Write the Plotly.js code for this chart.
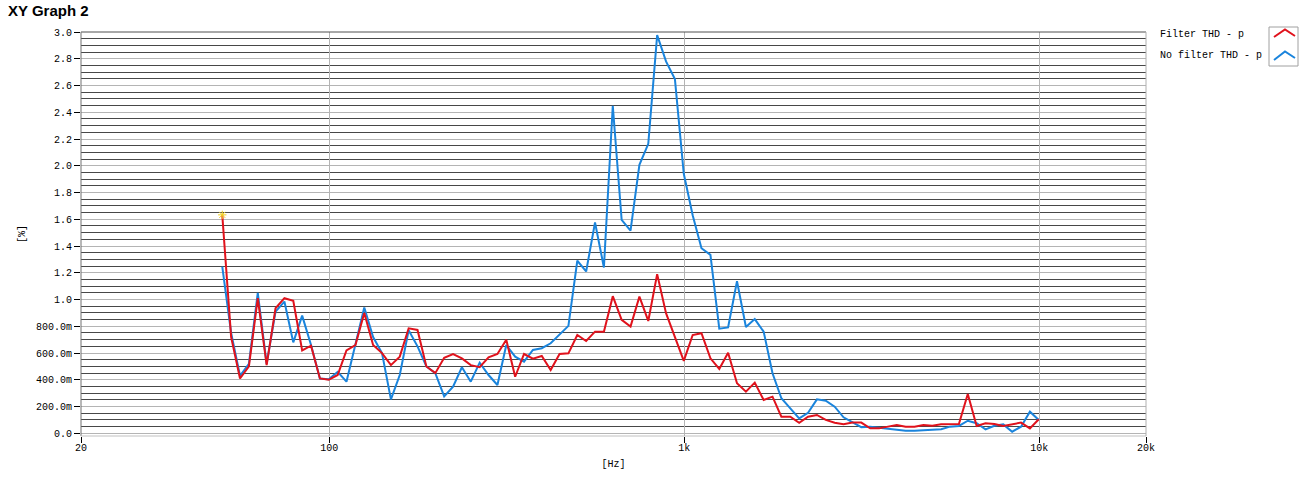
<!DOCTYPE html>
<html>
<head>
<meta charset="utf-8">
<script src="https://cdn.plot.ly/plotly-3.0.1.min.js"></script>
<style>html,body{margin:0;padding:0;background:#fff;}#chart{width:1312px;height:490px;}</style>
</head>
<body>
<div id="chart"></div>
<script>
// Frequencies (Hz)
const freqHz = [
  50.0, 52.96, 56.10, 59.43, 62.95, 66.68, 70.63, 74.82, 79.25, 83.95,
  88.92, 94.19, 99.77, 105.7, 111.9, 118.6, 125.6, 133.0, 140.9, 149.3,
  158.1, 167.5, 177.4, 187.9, 199.1, 210.9, 223.4, 236.6, 250.6, 265.5,
  281.2, 297.9, 315.5, 334.2, 354.0, 375.0, 397.2, 420.8, 445.7, 472.1,
  500.1, 529.6, 561.0, 594.3, 629.5, 666.8, 706.3, 748.2, 792.5, 839.5,
  889.2, 941.9, 997.7, 1057, 1119, 1186, 1256, 1330, 1409, 1493,
  1581, 1675, 1774, 1879, 1991, 2109, 2234, 2366, 2506, 2655,
  2812, 2979, 3155, 3342, 3540, 3750, 3972, 4208, 4457, 4721,
  5000, 5296, 5610, 5943, 6295, 6668, 7063, 7482, 7925, 8395,
  8892, 9419, 9977
];
// Filter THD - p  (%)
const filterTHD = [
  1.633, 0.72, 0.41, 0.50, 1.01, 0.51, 0.935, 1.01, 0.99, 0.62,
  0.655, 0.41, 0.40, 0.436, 0.62, 0.66, 0.90, 0.66, 0.60, 0.51,
  0.573, 0.785, 0.773, 0.50, 0.45, 0.565, 0.593, 0.56, 0.51, 0.494,
  0.568, 0.593, 0.70, 0.423, 0.593, 0.558, 0.578, 0.473, 0.593, 0.598,
  0.735, 0.69, 0.76, 0.76, 1.025, 0.848, 0.798, 1.022, 0.84, 1.19,
  0.898, 0.723, 0.542, 0.735, 0.748, 0.561, 0.481, 0.603, 0.374, 0.311,
  0.379, 0.249, 0.274, 0.124, 0.124, 0.079, 0.124, 0.137, 0.10, 0.079,
  0.068, 0.08, 0.08, 0.037, 0.037, 0.05, 0.062, 0.05, 0.05, 0.062,
  0.057, 0.067, 0.067, 0.07, 0.294, 0.055, 0.075, 0.07, 0.055, 0.067,
  0.08, 0.037, 0.105
];
// No filter THD - p  (%)
const noFilterTHD = [
  1.246, 0.75, 0.43, 0.52, 1.05, 0.52, 0.91, 0.985, 0.68, 0.88,
  0.66, 0.41, 0.405, 0.46, 0.386, 0.66, 0.94, 0.72, 0.60, 0.254,
  0.436, 0.77, 0.65, 0.50, 0.45, 0.276, 0.349, 0.494, 0.386, 0.528,
  0.436, 0.361, 0.66, 0.573, 0.536, 0.623, 0.636, 0.673, 0.735, 0.803,
  1.29, 1.21, 1.576, 1.24, 2.449, 1.596, 1.516, 2.007, 2.164, 2.977,
  2.78, 2.648, 1.94, 1.63, 1.384, 1.334, 0.782, 0.792, 1.137, 0.795,
  0.854, 0.76, 0.449, 0.262, 0.187, 0.112, 0.154, 0.254, 0.244, 0.199,
  0.12, 0.08, 0.046, 0.05, 0.042, 0.037, 0.03, 0.02, 0.02, 0.025,
  0.025, 0.03, 0.05, 0.055, 0.094, 0.075, 0.03, 0.057, 0.067, 0.012,
  0.05, 0.162, 0.10
];
const seriesNames = ['Filter THD - p', 'No filter THD - p'];
const yTickVals = [0, 0.2, 0.4, 0.6, 0.8, 1.0, 1.2, 1.4, 1.6, 1.8, 2.0, 2.2, 2.4, 2.6, 2.8, 3.0];
const yTickText = ['0.0', '200.0m', '400.0m', '600.0m', '800.0m', '1.0', '1.2', '1.4', '1.6', '1.8', '2.0', '2.2', '2.4', '2.6', '2.8', '3.0'];
const xTickVals = [20, 100, 1000, 10000, 20000];
const xTickText = ['20', '100', '1k', '10k', '20k'];

const RED = '#e0121c';
const BLUE = '#1a84dc';
const MONO = 'Liberation Mono, DejaVu Sans Mono, monospace';

// plot area geometry (px)
const W = 1312, H = 490;
const M = {l: 81, r: 166, t: 32, b: 54};
const PW = W - M.l - M.r, PH = H - M.t - M.b;
const px = v => (v - M.l) / PW;        // page x -> paper x
const py = v => (H - M.b - v) / PH;    // page y -> paper y

const traces = [
  {x: freqHz, y: noFilterTHD, name: seriesNames[1], type: 'scatter', mode: 'lines',
   line: {color: BLUE, width: 2}},
  {x: freqHz, y: filterTHD, name: seriesNames[0], type: 'scatter', mode: 'lines',
   line: {color: RED, width: 2}},
  {x: [freqHz[0]], y: [filterTHD[0]], type: 'scatter', mode: 'markers', showlegend: false,
   hoverinfo: 'skip',
   marker: {symbol: 'asterisk-open', size: 7, color: '#f0d020', line: {color: '#f0d020', width: 1}}}
];

const line = (x0, y0, x1, y1, color) => ({type: 'line', xref: 'paper', yref: 'paper',
  x0: px(x0), y0: py(y0), x1: px(x1), y1: py(y1), layer: 'above', line: {color: color, width: 1}});

const shapes = [
  // plot border
  line(M.l, M.t, W - M.r, M.t, '#505050'),
  line(M.l, M.t, M.l, H - M.b, '#707070'),
  line(M.l, H - M.b, W - M.r, H - M.b, '#c0c0c0'),
  line(W - M.r, M.t, W - M.r, H - M.b, '#b0b0b0'),
  // legend icon box
  {type: 'rect', xref: 'paper', yref: 'paper', x0: px(1269), y0: py(27), x1: px(1298), y1: py(66),
   line: {color: '#a0a0a0', width: 1}, fillcolor: 'rgba(0,0,0,0)', layer: 'above'},
  {type: 'path', xref: 'paper', yref: 'paper', layer: 'above',
   path: `M ${px(1274)} ${py(37)} L ${px(1285)} ${py(29.5)} L ${px(1295)} ${py(36)}`,
   line: {color: RED, width: 2}},
  {type: 'path', xref: 'paper', yref: 'paper', layer: 'above',
   path: `M ${px(1274)} ${py(60)} L ${px(1285)} ${py(51.5)} L ${px(1295)} ${py(58)}`,
   line: {color: BLUE, width: 2}}
];

const annotations = [
  {text: seriesNames[0], xref: 'paper', yref: 'paper', x: px(1158), y: py(34),
   xanchor: 'left', yanchor: 'middle', showarrow: false, font: {family: MONO, size: 10, color: '#000'}},
  {text: seriesNames[1], xref: 'paper', yref: 'paper', x: px(1158), y: py(55),
   xanchor: 'left', yanchor: 'middle', showarrow: false, font: {family: MONO, size: 10, color: '#000'}}
];

const layout = {
  width: W, height: H,
  margin: M,
  paper_bgcolor: '#fff', plot_bgcolor: '#fff',
  showlegend: false,
  title: {text: '<b>XY Graph 2</b>', x: 8 / W, xanchor: 'left', xref: 'container',
          y: 1 - 11 / H, yanchor: 'middle', yref: 'container',
          font: {family: 'Liberation Sans, Arial, sans-serif', size: 15, color: '#000'}},
  xaxis: {
    type: 'log', range: [Math.log10(20), Math.log10(20000)],
    tickmode: 'array', tickvals: xTickVals, ticktext: xTickText,
    ticks: 'outside', ticklen: 6, tickcolor: '#000', tickwidth: 1,
    ticklabelstandoff: -4,
    showgrid: true, gridcolor: '#b4b4b4', gridwidth: 1,
    showline: false, zeroline: false,
    tickfont: {family: MONO, size: 10, color: '#000'},
    title: {text: '[Hz]', standoff: 6, font: {family: MONO, size: 10, color: '#000'}},
    automargin: false, fixedrange: true
  },
  yaxis: {
    range: [-0.02, 3.0],
    tickmode: 'array', tickvals: yTickVals, ticktext: yTickText,
    ticks: 'outside', ticklen: 6, tickcolor: '#000', tickwidth: 1,
    showgrid: true, gridcolor: '#b4b4b4', gridwidth: 1,
    minor: {tickmode: 'linear', tick0: 0, dtick: 0.05, showgrid: true, gridcolor: '#484848', gridwidth: 1, ticks: ''},
    showline: false, zeroline: false,
    tickfont: {family: MONO, size: 10, color: '#000'},
    title: {text: '[%]', standoff: 8, font: {family: MONO, size: 10, color: '#000'}},
    automargin: false, fixedrange: true
  },
  shapes: shapes,
  annotations: annotations
};

Plotly.newPlot('chart', traces, layout, {displayModeBar: false, staticPlot: true});
</script>
</body>
</html>
